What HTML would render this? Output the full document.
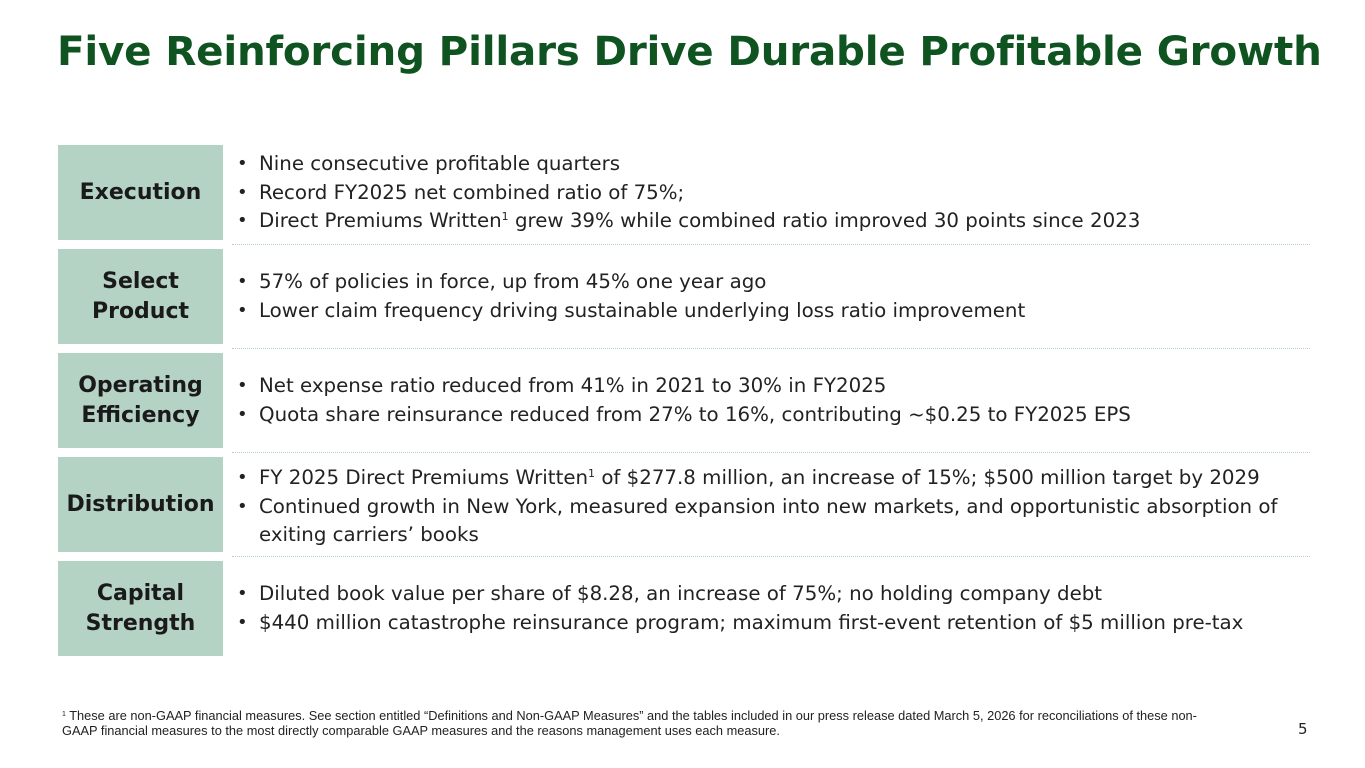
<!DOCTYPE html>
<html><head><meta charset="utf-8"><style>
body{margin:0;width:1365px;height:768px;background:#fff;position:relative;overflow:hidden;font-family:"DejaVu Sans","Liberation Sans",sans-serif;}
h1{position:absolute;left:57px;top:27px;margin:0;font-size:40.4px;font-weight:bold;color:#0f5321;white-space:nowrap;letter-spacing:-0.2px;}
.box{position:absolute;left:58px;width:165px;height:95px;background:#b5d3c4;display:flex;align-items:center;justify-content:center;text-align:center;font-weight:bold;font-size:22px;line-height:30px;color:#1a1a1a;}
.sep{position:absolute;left:232px;width:1078px;border-top:1px dotted #b8cfc4;}
.bl{position:absolute;left:237px;font-size:19.8px;color:#222;line-height:28.5px;white-space:nowrap;}
.bl div{padding-left:22px;position:relative;}
.bl div:before{content:"•";position:absolute;left:0;font-size:18px;}
sup{font-size:11px;vertical-align:7px;line-height:0;}
.fn{position:absolute;left:62px;top:708px;font-family:"Liberation Sans",sans-serif;font-size:12.8px;line-height:15px;color:#222;white-space:nowrap;}
.pg{position:absolute;left:1298px;top:720px;font-size:15px;color:#222;}
</style></head><body>
<h1>Five Reinforcing Pillars Drive Durable Profitable Growth</h1>
<div class="box" style="top:145px">Execution</div>
<div class="box" style="top:249px">Select<br>Product</div>
<div class="box" style="top:353px">Operating<br>Efficiency</div>
<div class="box" style="top:457px">Distribution</div>
<div class="box" style="top:561px">Capital<br>Strength</div>
<div class="sep" style="top:244px"></div>
<div class="sep" style="top:348px"></div>
<div class="sep" style="top:452px"></div>
<div class="sep" style="top:556px"></div>
<div class="bl" style="top:150px"><div>Nine consecutive profitable quarters</div><div>Record FY2025 net combined ratio of 75%;</div><div>Direct Premiums Written<sup>1</sup> grew 39% while combined ratio improved 30 points since 2023</div></div>
<div class="bl" style="top:268px"><div>57% of policies in force, up from 45% one year ago</div><div>Lower claim frequency driving sustainable underlying loss ratio improvement</div></div>
<div class="bl" style="top:372px"><div>Net expense ratio reduced from 41% in 2021 to 30% in FY2025</div><div>Quota share reinsurance reduced from 27% to 16%, contributing ~$0.25 to FY2025 EPS</div></div>
<div class="bl" style="top:464px"><div>FY 2025 Direct Premiums Written<sup>1</sup> of $277.8 million, an increase of 15%; $500 million target by 2029</div><div>Continued growth in New York, measured expansion into new markets, and opportunistic absorption of<br>exiting carriers’ books</div></div>
<div class="bl" style="top:580px"><div>Diluted book value per share of $8.28, an increase of 75%; no holding company debt</div><div>$440 million catastrophe reinsurance program; maximum first-event retention of $5 million pre-tax</div></div>
<div class="fn"><sup style="font-size:7px;vertical-align:4px">1</sup> These are non-GAAP financial measures. See section entitled “Definitions and Non-GAAP Measures” and the tables included in our press release dated March 5, 2026 for reconciliations of these non-<br>GAAP financial measures to the most directly comparable GAAP measures and the reasons management uses each measure.</div>
<div class="pg">5</div>
</body></html>
